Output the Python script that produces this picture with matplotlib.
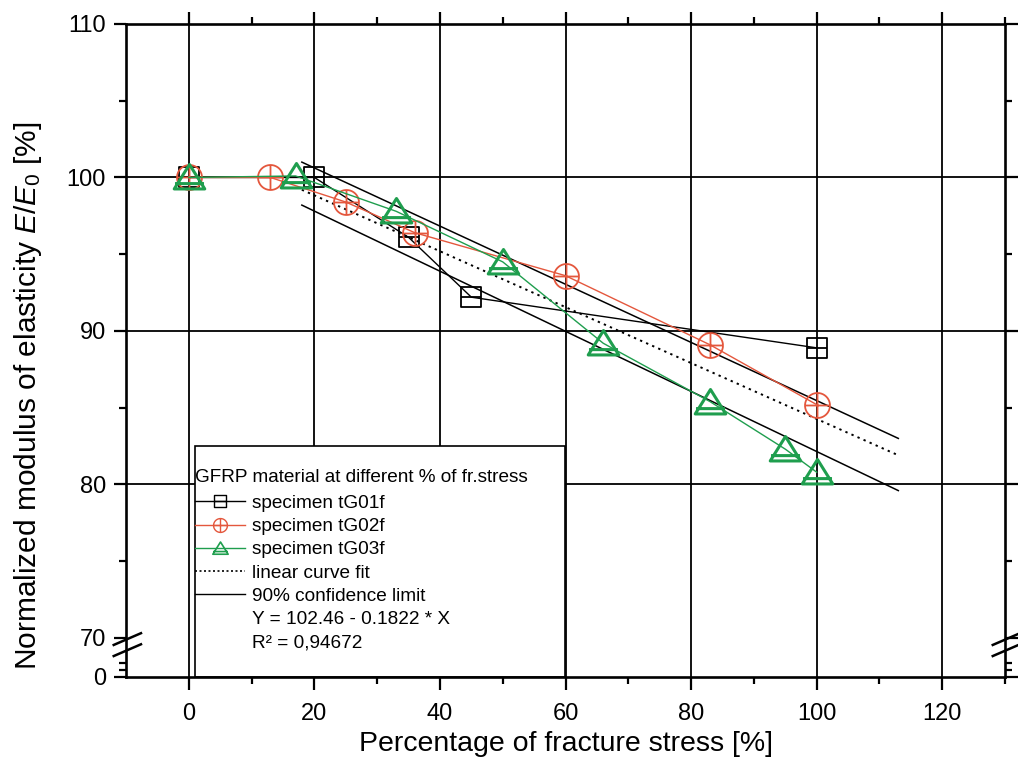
import numpy as np
import matplotlib
matplotlib.use('Agg')
import matplotlib.pyplot as plt
from matplotlib.lines import Line2D
from matplotlib.path import Path
from matplotlib.patches import Rectangle

plt.rcParams['font.family'] = ['Liberation Sans', 'DejaVu Sans']
plt.rcParams['mathtext.fontset'] = 'custom'
plt.rcParams['mathtext.rm'] = 'Liberation Sans'
plt.rcParams['mathtext.it'] = 'Liberation Sans:italic'

# data
x_g01 = [0, 20, 35, 45, 100]
y_g01 = [100, 100, 96.1, 92.2, 88.9]

x_g02 = [0, 13, 25, 36, 60, 83, 100]
y_g02 = [100, 100, 98.4, 96.4, 93.6, 89.1, 85.2]

x_g03 = [0, 17, 33, 50, 66, 83, 95, 100]
y_g03 = [100, 100.1, 97.8, 94.5, 89.2, 85.4, 82.3, 80.8]

fit_x = [18, 113]
fit_y = [99.2, 81.9]
upper_x = [18, 113]
upper_y = [101.0, 83.0]
lower_x = [18, 113]
lower_y = [98.2, 79.6]

x_ticks = [0, 20, 40, 60, 80, 100, 120]
y_ticks = [0, 70, 80, 90, 100, 110]
y_grid = [80, 90, 100]

RED = '#e4573d'
GREEN = '#1f9e4e'

# broken y axis: 0..70 squeezed into a small strip below 70
B = 2.54


def fwd(y):
    y = np.asarray(y, dtype=float)
    return np.where(y >= 70, y - 70 + B, y * B / 70)


def inv(u):
    u = np.asarray(u, dtype=float)
    return np.where(u >= B, u + 70 - B, u * 70 / B)


# marker shapes
sq = Path([(-1, -1), (1, -1), (1, 1), (-1, 1), (-1, -1), (-1, 0), (1, 0)],
          [1, 2, 2, 2, 79, 1, 2])
t = np.linspace(0, 2 * np.pi, 40)
circ_v = list(zip(np.cos(t), np.sin(t))) + [(-1, 0), (1, 0), (0, -1), (0, 1)]
circ_c = [1] + [2] * 39 + [1, 2, 1, 2]
circ = Path(circ_v, circ_c)
tri = Path([(0, 0.85), (-1, -0.75), (1, -0.75), (0, 0.85), (-0.95, -0.4), (0.95, -0.4)],
           [1, 2, 2, 79, 1, 2])

fig = plt.figure(figsize=(10.18, 7.71), dpi=100)
ax = fig.add_axes([0.1238, 0.122, 0.8635, 0.8469])
ax.set_yscale('function', functions=(fwd, inv))
ax.set_xlim(-10, 130)
ax.set_ylim(0, 110)

for gx in x_ticks:
    ax.axvline(gx, color='black', lw=1.3, zorder=0.5)
for gy in y_grid:
    ax.axhline(gy, color='black', lw=1.3, zorder=0.5)

# legend box
ax.add_patch(Rectangle((0.0785, 0), 0.421, 0.354, transform=ax.transAxes,
                       facecolor='white', edgecolor='black', lw=1.2, zorder=1))

ax.plot(fit_x, fit_y, color='black', ls=(0, (1.2, 2.2)), lw=1.4, zorder=2)
ax.plot(upper_x, upper_y, color='black', lw=1.1, zorder=2)
ax.plot(lower_x, lower_y, color='black', lw=1.1, zorder=2)

ax.plot(x_g01, y_g01, color='black', lw=1.0, marker=sq, ms=14, mfc='none',
        mec='black', mew=1.3, zorder=3)
ax.plot(x_g02, y_g02, color=RED, lw=1.0, marker=circ, ms=18, mfc='none',
        mec=RED, mew=1.3, zorder=3)
ax.plot(x_g03, y_g03, color=GREEN, lw=1.0, marker=tri, ms=22, mfc='none',
        mec=GREEN, mew=2.2, zorder=3)

handles = [
    Line2D([], [], color='black', lw=1.0, marker=sq, ms=8, mfc='none', mec='black', mew=1.0),
    Line2D([], [], color=RED, lw=1.0, marker=circ, ms=10, mfc='none', mec=RED, mew=1.0),
    Line2D([], [], color=GREEN, lw=1.0, marker=tri, ms=11, mfc='none', mec=GREEN, mew=1.2),
    Line2D([], [], color='black', ls=(0, (1.2, 1.5)), lw=1.2),
    Line2D([], [], color='black', lw=1.0),
    Line2D([], [], lw=0),
    Line2D([], [], lw=0),
]
labels = ['specimen tG01f', 'specimen tG02f', 'specimen tG03f', 'linear curve fit',
          '90% confidence limit', 'Y = 102.46 - 0.1822 * X', 'R² = 0,94672']
leg = ax.legend(handles, labels, title='GFRP material at different % of fr.stress',
                loc='upper left', bbox_to_anchor=(0.079, 0.318), frameon=False,
                fontsize=13.7, title_fontsize=13.7, handlelength=2.6,
                handletextpad=0.35, labelspacing=0.31, borderpad=0, borderaxespad=0)
leg._legend_box.align = 'left'
leg._legend_box.sep = 6
leg.set_zorder(4)

ax.set_xticks(x_ticks)
ax.set_xticks([10, 30, 50, 70, 90, 110, 130], minor=True)
ax.set_yticks(y_ticks)
ax.set_yticks([12.5, 25, 75, 85, 95, 105], minor=True)
ax.tick_params(which='both', direction='out', top=True, right=True, labelsize=17,
               width=1.6, color='black')
ax.tick_params(which='major', length=9)
ax.tick_params(which='minor', length=5)
ax.tick_params(axis='x', pad=9.5)
ax.tick_params(axis='y', pad=5.5)
for s in ax.spines.values():
    s.set_linewidth(1.9)

# break marks on both y spines
for xa in (0.0, 1.0):
    for ya in (0.058, 0.041):
        ax.plot([xa - 0.014, xa + 0.017], [ya - 0.009, ya + 0.009], color='black', lw=1.8,
                transform=ax.transAxes, clip_on=False, zorder=5)

ax.set_xlabel('Percentage of fracture stress [%]', fontsize=20.5)
ax.xaxis.set_label_coords(0.5, -0.083)
ax.set_ylabel('Normalized modulus of elasticity $E/E_0$ [%]', fontsize=21.5)
ax.yaxis.set_label_coords(-0.093, 0.43)

fig.savefig('out.png', dpi=100)
